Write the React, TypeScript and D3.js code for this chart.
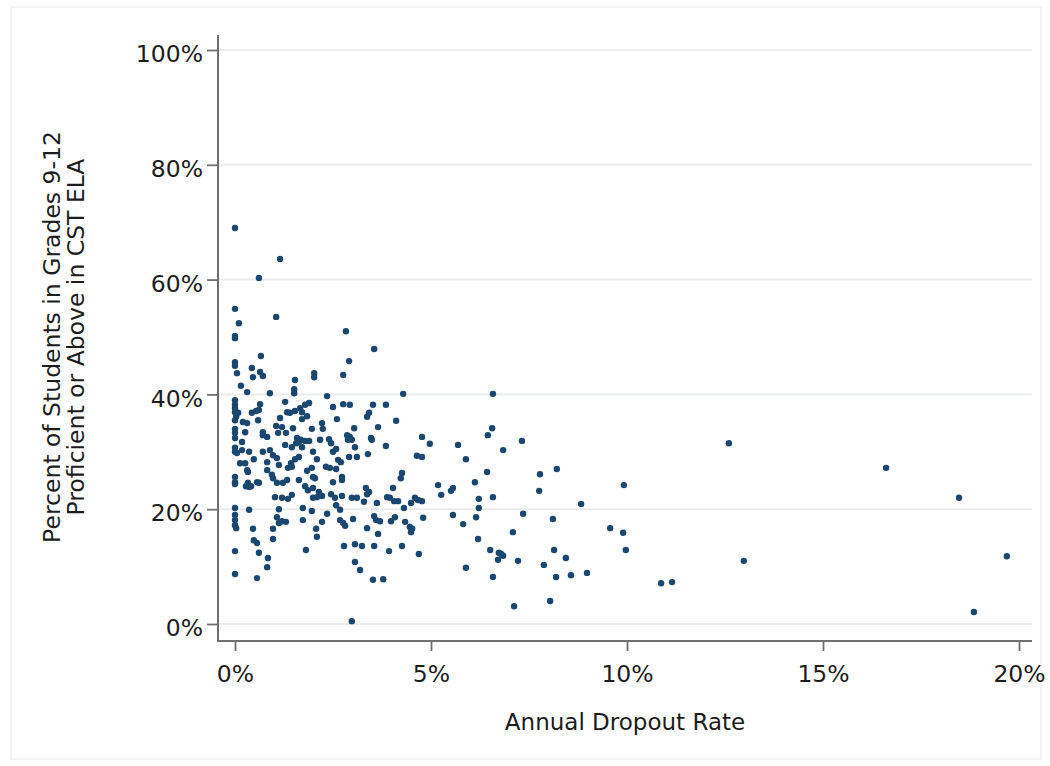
import React, { useEffect, useRef } from 'react';
import * as d3 from 'd3';

// [annual dropout rate %, % proficient or above in CST ELA]
const schools: [number, number][] = [
  [0, 69.0], [1.15, 63.6], [0.61, 60.3], [0, 54.9], [0.10, 52.4], [0, 50.2], [0, 49.8],
  [1.05, 53.5], [2.83, 51.0], [0.66, 46.7], [2.91, 45.8], [0, 45.6], [0, 45.0], [0.43, 44.6],
  [3.55, 47.9],
  [0.05, 43.7], [0.46, 43.0], [0.64, 43.9], [0.71, 43.2], [0.15, 41.5], [0.31, 40.4], [0.89, 40.2],
  [1.53, 42.5], [1.51, 40.9], [1.51, 40.2], [2.02, 43.7], [2.02, 43.0], [0, 39.0], [0, 38.2],
  [0, 37.6], [0, 36.9], [0.03, 36.1], [0.08, 36.8], [0, 35.5], [0.20, 35.2], [0.31, 35.0],
  [0, 34.0], [0, 33.3], [0, 32.4], [0.26, 33.4], [0.43, 36.8], [0.54, 37.1], [0.61, 37.3],
  [0.64, 38.3], [0.59, 35.5], [0.71, 33.4], [0.71, 32.9], [0.82, 32.6], [0.18, 31.7], [0, 30.7],
  [0, 30.0], [0.05, 29.8], [0.18, 30.3], [0.36, 30.0], [0.71, 30.0], [0.89, 30.3], [0.97, 29.4],
  [1.07, 28.9], [0.13, 28.0], [0.26, 28.0], [0.48, 28.7], [0.82, 28.2], [1.12, 27.7], [1.28, 38.7],
  [1.33, 36.9], [1.40, 36.8], [1.53, 37.1], [1.66, 37.6], [1.71, 36.9], [1.79, 38.2], [1.89, 38.5],
  [1.15, 35.9], [1.05, 34.5], [1.20, 34.3], [1.10, 33.3], [1.30, 33.3], [1.48, 34.1], [1.71, 35.7],
  [1.84, 36.2], [1.96, 34.0], [2.22, 35.0], [1.58, 32.4], [1.63, 31.7], [1.56, 31.5], [1.68, 32.1],
  [1.79, 31.9], [1.89, 31.9], [1.28, 31.2], [1.45, 30.8], [1.71, 30.8], [1.53, 28.7], [1.63, 29.1],
  [1.43, 28.0], [1.99, 30.0], [2.09, 28.7], [2.17, 32.1],
  [2.76, 43.4], [2.35, 39.7], [4.29, 40.1], [2.50, 37.8], [2.76, 38.3], [2.93, 38.2], [3.52, 38.2],
  [3.85, 38.2], [3.42, 36.8], [3.37, 36.1], [2.60, 35.7], [4.11, 35.4], [2.24, 34.0], [3.65, 34.3],
  [3.04, 34.1], [2.40, 32.2], [2.45, 31.5], [2.86, 32.9], [2.93, 32.6], [2.98, 32.1], [2.88, 32.1],
  [3.47, 32.4], [3.49, 32.1], [4.77, 32.6], [3.85, 31.0], [3.06, 30.8], [2.50, 30.0], [2.58, 30.5],
  [3.39, 29.6], [2.91, 29.1], [3.11, 29.1], [2.63, 28.6], [2.70, 28.2], [4.64, 29.3], [4.77, 29.1],
  [2.32, 27.4], [2.42, 27.2], [2.58, 27.0],
  [0.31, 26.8], [0.33, 26.5], [0.82, 26.8], [0.94, 26.0], [0.97, 25.4], [1.35, 27.2], [1.45, 27.4],
  [1.84, 26.7], [1.96, 27.2], [0, 25.6], [0, 24.7], [0, 24.4], [0.28, 24.0], [0.33, 24.6],
  [0.36, 23.9], [0.41, 24.0], [0.56, 24.7], [0.61, 24.6], [1.07, 24.6], [1.22, 24.6], [1.33, 25.1],
  [1.63, 25.1], [1.79, 24.0], [1.86, 23.3], [1.99, 25.6], [2.04, 25.4], [1.99, 23.7], [2.14, 23.0],
  [2.17, 22.5], [1.99, 22.0], [2.09, 22.1], [1.02, 22.1], [1.20, 22.0], [1.35, 21.8], [1.45, 22.5],
  [0, 20.2], [0, 19.0], [0, 18.1], [0, 17.2], [0.03, 16.7], [0.36, 19.9], [1.12, 20.0], [1.07, 18.6],
  [1.20, 17.9], [1.12, 17.6], [1.30, 17.8], [1.73, 20.2], [1.96, 19.7], [1.73, 18.1], [2.22, 17.8],
  [0.46, 16.6], [0.97, 16.6], [2.07, 16.6], [2.09, 15.2], [0.97, 14.8], [0.48, 14.6], [0.56, 14.1],
  [0, 12.7], [1.81, 12.9], [0.61, 12.4], [0.84, 11.5],
  [4.26, 26.3], [4.23, 25.4], [2.73, 25.6], [2.73, 25.1], [2.50, 24.7], [4.03, 23.7], [3.34, 23.7],
  [3.42, 23.0], [3.37, 22.6], [2.22, 22.3], [2.45, 22.6], [2.55, 22.0], [2.73, 22.3], [2.98, 22.0],
  [3.11, 22.0], [3.29, 21.3], [3.88, 22.1], [3.95, 22.0], [4.06, 21.4], [4.16, 21.4], [3.62, 21.1],
  [2.58, 20.7], [2.68, 19.9], [4.31, 20.2], [4.49, 21.1], [4.59, 22.0], [4.67, 21.6], [4.77, 21.4],
  [2.35, 19.2], [2.68, 18.1], [2.76, 17.6], [2.81, 17.1], [3.01, 18.3], [3.55, 18.8], [3.60, 18.1],
  [3.70, 17.9], [3.98, 17.9], [4.08, 18.6], [4.34, 17.8], [4.80, 18.5], [4.46, 16.9], [4.52, 16.6],
  [4.49, 16.0], [3.37, 16.7], [3.65, 15.7], [2.78, 13.6], [3.06, 13.9], [3.24, 13.6], [3.55, 13.6],
  [3.93, 12.7], [4.26, 13.6], [4.69, 12.2], [3.06, 10.8],
  [0, 8.7], [0.56, 8.0], [0.82, 9.9], [3.19, 9.4], [3.52, 7.7], [3.78, 7.8], [2.98, 0.5],
  [6.58, 40.1], [6.56, 34.1], [6.45, 32.9], [5.69, 31.2], [5.89, 28.7], [6.43, 26.5], [6.12, 24.7],
  [5.18, 24.2], [5.26, 22.5], [5.51, 23.2], [5.56, 23.7], [6.58, 22.1], [6.22, 21.8], [6.22, 20.2],
  [6.15, 18.6], [5.56, 19.0], [5.82, 17.4], [6.20, 14.8], [6.51, 12.9], [5.89, 9.8], [6.58, 8.2],
  [6.73, 12.4], [6.71, 11.2], [4.97, 31.4],
  [7.32, 31.9], [6.84, 30.3], [7.78, 26.1], [8.21, 27.0], [7.76, 23.2], [9.92, 24.2], [8.83, 20.9],
  [7.35, 19.2], [8.11, 18.3], [9.57, 16.7], [9.90, 15.9], [7.09, 16.0], [9.97, 12.9], [6.79, 12.2],
  [6.84, 11.9], [7.22, 11.0], [8.14, 12.9], [8.44, 11.5], [7.88, 10.3], [8.19, 8.2], [8.57, 8.5],
  [8.98, 8.9], [8.04, 4.0], [7.12, 3.1],
  [12.60, 31.5], [16.61, 27.2], [18.47, 22.0], [12.98, 11.0], [10.87, 7.1], [11.15, 7.3],
  [19.69, 11.8], [18.85, 2.1],
];

const xTicks = [0, 5, 10, 15, 20];
const yTicks = [0, 20, 40, 60, 80, 100];
const xTitle = 'Annual Dropout Rate';
const yTitle = ['Percent of Students in Grades 9-12', 'Proficient or Above in CST ELA'];

const width = 1050;
const height = 766;
const font = '"DejaVu Sans", sans-serif';

function DropoutScatter() {
  const ref = useRef<SVGSVGElement>(null);

  useEffect(() => {
    const svg = d3.select(ref.current);
    svg.selectAll('*').remove();

    // plot region box
    const box = { left: 218, right: 1032, top: 35, bottom: 641 };

    const x = d3.scaleLinear().domain([0, 20]).range([235, 1019]);
    const y = d3.scaleLinear().domain([0, 100]).range([624, 50]);

    // faint outer frame
    svg.append('rect')
      .attr('x', 11).attr('y', 7)
      .attr('width', 1030).attr('height', 752)
      .attr('fill', 'white')
      .attr('stroke', '#efefef')
      .attr('stroke-width', 1.5);

    // grid
    svg.append('g')
      .selectAll('line')
      .data(yTicks)
      .join('line')
      .attr('x1', box.left + 1)
      .attr('x2', box.right)
      .attr('y1', d => y(d))
      .attr('y2', d => y(d))
      .attr('stroke', '#eaecee')
      .attr('stroke-width', 2);

    const yAxis = svg.append('g')
      .attr('transform', `translate(${box.left},0)`)
      .call(d3.axisLeft(y).tickValues(yTicks).tickSize(11).tickPadding(4).tickFormat(d => `${d}%`));

    const xAxis = svg.append('g')
      .attr('transform', `translate(0,${box.bottom})`)
      .call(d3.axisBottom(x).tickValues(xTicks).tickSize(10).tickPadding(14).tickFormat(d => `${d}%`));

    [yAxis, xAxis].forEach(g => {
      g.select('.domain').remove();
      g.selectAll('.tick line').attr('stroke', '#707070').attr('stroke-width', 1.8);
      g.selectAll('.tick text')
        .attr('fill', '#1c1c1c')
        .style('font-family', font)
        .style('font-size', '23.5px');
    });
    yAxis.selectAll('.tick text').attr('dy', '0.5em');

    // axis lines
    svg.append('line')
      .attr('x1', box.left).attr('x2', box.left)
      .attr('y1', box.top).attr('y2', box.bottom + 1)
      .attr('stroke', '#707070').attr('stroke-width', 2);
    svg.append('line')
      .attr('x1', box.left - 1).attr('x2', box.right)
      .attr('y1', box.bottom).attr('y2', box.bottom)
      .attr('stroke', '#707070').attr('stroke-width', 2);

    // points
    svg.append('g')
      .selectAll('circle')
      .data(schools)
      .join('circle')
      .attr('cx', d => x(d[0]))
      .attr('cy', d => y(d[1]))
      .attr('r', 3.2)
      .attr('fill', '#1a476f');

    // titles
    svg.append('text')
      .attr('x', (box.left + box.right) / 2)
      .attr('y', 730)
      .attr('text-anchor', 'middle')
      .attr('fill', '#1c1c1c')
      .style('font-family', font)
      .style('font-size', '23px')
      .text(xTitle);

    svg.append('g')
      .selectAll('text')
      .data(yTitle)
      .join('text')
      .attr('transform', (d, i) => `translate(${60 + i * 24},337) rotate(-90)`)
      .attr('text-anchor', 'middle')
      .attr('fill', '#1c1c1c')
      .style('font-family', font)
      .style('font-size', '23.5px')
      .text(d => d);
  }, []);

  return (
    <svg
      ref={ref}
      width={width}
      height={height}
      style={{ position: 'absolute', left: 0, top: 0, background: 'white' }}
    />
  );
}

export default function App() {
  return <DropoutScatter />;
}
